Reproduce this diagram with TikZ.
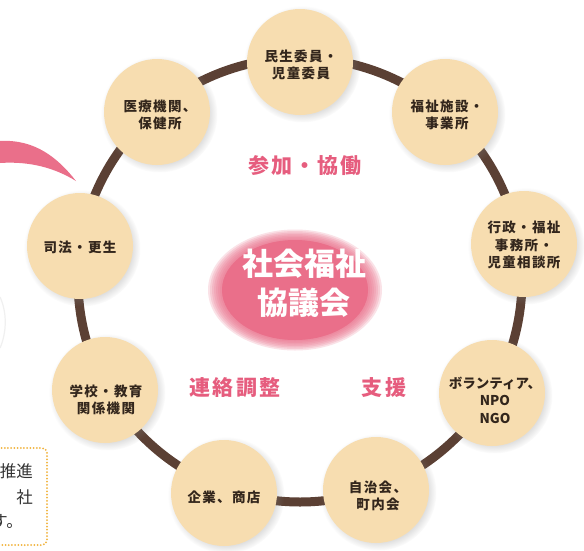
\documentclass[tikz,border=0pt]{standalone}
\usepackage{fontspec}
\newfontfamily\jp[LetterSpace=10]{Noto Sans CJK JP}
\newfontfamily\jpn{Noto Sans CJK JP}
\usetikzlibrary{shadows,shapes.geometric}
\definecolor{ringc}{HTML}{5B4034}
\definecolor{beige}{HTML}{F7DDB0}
\definecolor{pinkc}{HTML}{EA6F8A}
\definecolor{pinkt}{HTML}{E65D7E}
\definecolor{txt}{HTML}{33261C}
\definecolor{dotc}{HTML}{F1B23A}
\begin{document}
\begin{tikzpicture}[x=1pt,y=-1pt,
  member/.style={circle,fill=beige,minimum size=106pt,inner sep=0pt,
    circular drop shadow={shadow xshift=2pt,shadow yshift=-2pt,opacity=.25}},
  lbl/.style={align=center,text=txt,inner sep=0pt,font=\jp\bfseries\fontsize{13.5}{17.5}\selectfont},
  kw/.style={text=pinkt,inner sep=0pt,font=\jp\bfseries\fontsize{21}{24}\selectfont},
  hub/.style={ellipse,fill=pinkc,minimum width=146pt,minimum height=100pt,inner sep=0pt},
  halo/.style={fill=pinkc,opacity=.2},
  boxtxt/.style={text=black!80,inner sep=0pt,font=\jpn\fontsize{16.5}{20}\selectfont}]
\useasboundingbox (0,0) rectangle (584,550);
\clip (0,0) rectangle (584,550);
\fill[white] (0,0) rectangle (584,550);

% left fragments
\fill[pinkc] (0,141) .. controls (35,139) and (58,158) .. (76,181)
  .. controls (55,168) and (30,161) .. (0,163) -- cycle;
\draw[gray!12, line width=1.2pt] (0,297) .. controls (7,312) and (7,332) .. (0,348);
\draw[dotc, line width=2pt, dash pattern=on 0pt off 3.2pt, line cap=round, rounded corners=5pt]
  (-20,448) rectangle (47,545);
\node[boxtxt, anchor=east] (b1) at (33,471) {を推進};
\node[boxtxt, anchor=east] (b2) at (33,497) {社};
\node[boxtxt, anchor=east] (b3) at (23,521) {ます。};

% ring
\draw[ringc, line width=9pt] (300,280) circle[radius=222];

% member circles
\node[member] (c1) at (300,62) {};
\node[member] (c2) at (445,112) {};
\node[member] (c3) at (524,244) {};
\node[member] (c4) at (492,393) {};
\node[member] (c5) at (376,490) {};
\node[member] (c6) at (224,493) {};
\node[member] (c7) at (105,390) {};
\node[member] (c8) at (80,246) {};
\node[member] (c9) at (157,112) {};

\node[lbl] (t1) at (301,65) {民生委員・\\児童委員};
\node[lbl] (t2) at (447,115) {福祉施設・\\事業所};
\node[lbl] (t3) at (524,245) {行政・福祉\\事務所・\\児童相談所};
\node[lbl,font=\jpn\bfseries\fontsize{13.5}{17.5}\selectfont] (t4) at (495,400) {ボランティア、\\NPO\\NGO};
\node[lbl] (t5) at (378,496) {自治会、\\町内会};
\node[lbl] (t6) at (224,497) {企業、商店};
\node[lbl] (t7) at (106,400) {学校・教育\\関係機関};
\node[lbl] (t8) at (80,247) {司法・更生};
\node[lbl] (t9) at (160,115) {医療機関、\\保健所};

% hub with soft edge
\foreach \r in {0,2,...,14} {
  \fill[halo] (295,290) ellipse[x radius=73+\r, y radius=50+\r*0.75];
}
\node[hub] (hub) at (295,290) {};
\node[align=center,text=white,inner sep=0pt,font=\jpn\bfseries\fontsize{31}{39}\selectfont]
  (hubt) at (304,283) {社会福祉\\協議会};

% keywords
\node[kw] (k1) at (305,166) {参加・協働};
\node[kw] (k2) at (235,388) {連絡調整};
\node[kw] (k3) at (384,388) {支援};
\end{tikzpicture}
\end{document}
